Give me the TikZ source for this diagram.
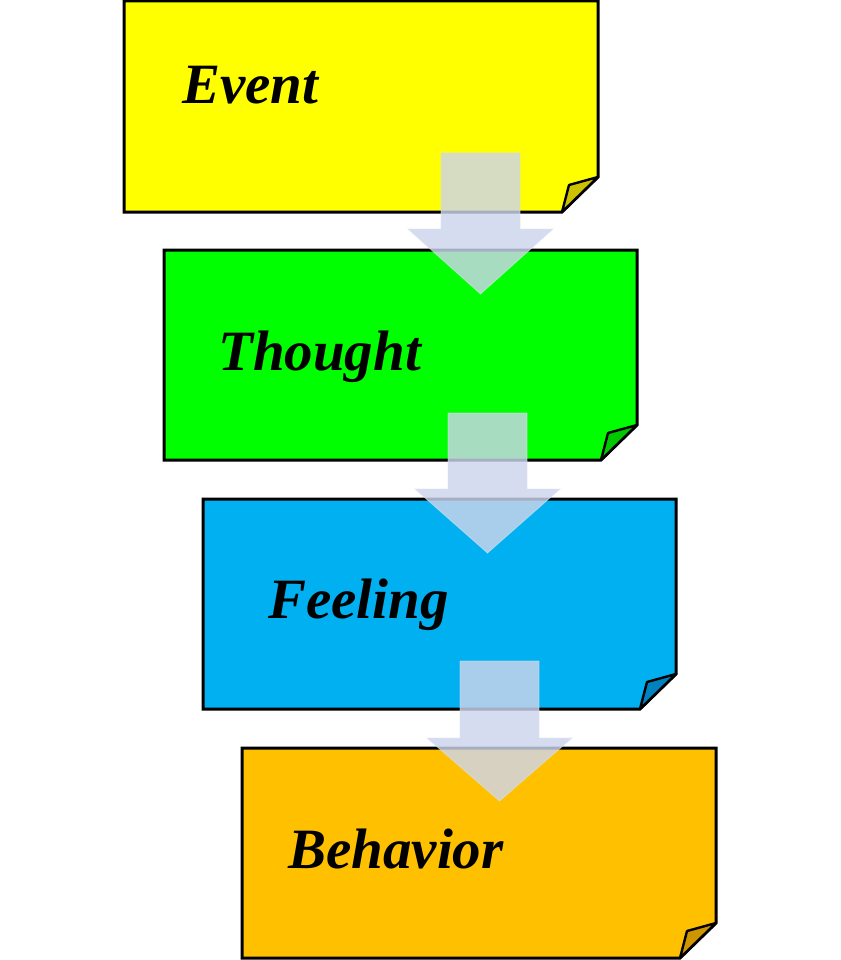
\documentclass[tikz,border=0pt]{standalone}
\usepackage{fontspec}
\setmainfont{Liberation Serif}
\begin{document}
\begin{tikzpicture}[x=1pt,y=-1pt,
  note/.style={line width=3pt,line join=miter},
  fold/.style={line width=2.4pt,line join=round},
  blockarrow/.style={fill={rgb,255:red,206;green,213;blue,236},fill opacity=0.82,draw={rgb,255:red,220;green,224;blue,240},draw opacity=0.6,line width=0.8pt},
  lbl/.style={font=\fontsize{57}{60}\selectfont\bfseries\itshape,anchor=base west,inner sep=0pt}]
\definecolor{cyel}{RGB}{255,255,0}
\definecolor{cyelf}{RGB}{204,194,0}
\definecolor{cgrn}{RGB}{0,255,0}
\definecolor{cgrnf}{RGB}{0,200,0}
\definecolor{cblu}{RGB}{0,176,240}
\definecolor{cbluf}{RGB}{0,130,190}
\definecolor{corg}{RGB}{255,192,0}
\definecolor{corgf}{RGB}{205,150,0}
\useasboundingbox[fill=white] (0,0) rectangle (840,960);
% note boxes
\newcommand{\notebox}[5]{%
  \fill[#5] (#1,#2) -- (#3,#2) -- (#3,#4-35) -- (#3-36,#4) -- (#1,#4) -- cycle;
  \draw[note] (#1,#2) -- (#3,#2) -- (#3,#4-35) -- (#3-36,#4) -- (#1,#4) -- cycle;
  \draw[fold,fill=#5f] (#3,#4-35) -- (#3-29,#4-27) -- (#3-36,#4) -- cycle;}
\newcommand{\blockdown}[4]{%
  \draw[blockarrow] (#1,#2) -- (#1+79,#2) -- (#1+79,#3) -- (#1+112,#3) -- (#1+39.5,#4) -- (#1-33,#3) -- (#1,#3) -- cycle;}
\notebox{124}{1}{598}{212}{cyel}
\node[lbl] (event) at (182,104) {Event};
\notebox{164}{250}{637}{460}{cgrn}
\node[lbl] (thought) at (218,370) {Thought};
\blockdown{441}{153}{229}{294}
\notebox{203}{499}{676}{709}{cblu}
\node[lbl] (feeling) at (268,618) {Feeling};
\blockdown{448}{413}{489}{553}
\notebox{242}{748}{716}{958}{corg}
\node[lbl] (behavior) at (288,868) {Behavior};
\blockdown{460}{661}{738}{801}
\end{tikzpicture}
\end{document}
